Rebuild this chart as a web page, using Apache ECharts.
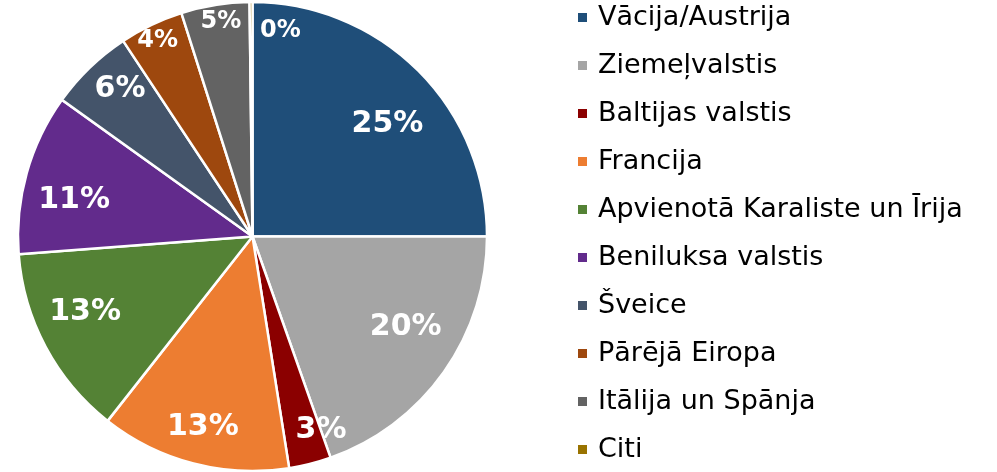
<!DOCTYPE html>
<html><head><meta charset="utf-8">
<script src="https://cdn.jsdelivr.net/npm/echarts@6/dist/echarts.min.js"></script>
<style>html,body{margin:0;padding:0;background:#fff}#c{width:997px;height:472px}</style>
</head><body><div id="c"></div>
<script>
const categories = ["Vācija/Austrija","Ziemeļvalstis","Baltijas valstis","Francija","Apvienotā Karaliste un Īrija","Beniluksa valstis","Šveice","Pārējā Eiropa","Itālija un Spānja","Citi"];
const shares = [25, 19.6, 2.9, 13.1, 13.2, 11.1, 5.8, 4.4, 4.7, 0.2];
const colors = ["#1F4E79","#A5A5A5","#8B0000","#ED7D31","#548235","#622B8C","#44546A","#9E480E","#636363","#997300"];

// label placement tweaks (layout only)
const labelTweak = {
  0:{offset:[4,19]}, 1:{offset:[2,-16]}, 2:{offset:[23,14]}, 3:{offset:[-3,11]},
  4:{offset:[-4,-11]}, 5:{offset:[0,14]}, 6:{offset:[-4,-14]},
  7:{offset:[-15,-29], fontSize:24}, 8:{offset:[-2,-32], fontSize:24}, 9:{offset:[29,-20], fontSize:24}
};

const chart = echarts.init(document.getElementById('c'));
const dataMain = categories.map((n,i)=>({name:n, value:shares[i], itemStyle:{color:colors[i]}}));
const dataLbl = categories.map((n,i)=>({name:n, value:shares[i], label:labelTweak[i]||{}}));
const C = [252.5, 236.5], R = 234.5;
chart.setOption({
  animation:false,
  legend:{
    orient:'vertical', left:576, top:4, height:468, padding:0,
    icon:'rect', itemWidth:11, itemHeight:11, itemGap:21,
    data:categories,
    textStyle:{fontFamily:'DejaVu Sans', fontSize:27, color:'#000', lineHeight:27, padding:[0,0,0,5]},
    selectedMode:false
  },
  series:[
    {type:'pie', center:C, radius:R, startAngle:90, clockwise:true,
     avoidLabelOverlap:false, silent:true,
     itemStyle:{borderColor:'#fff', borderWidth:2.5},
     label:{show:false}, labelLine:{show:false}, emphasis:{disabled:true},
     data:dataMain},
    {type:'pie', center:C, radius:[130, R], startAngle:90, clockwise:true,
     avoidLabelOverlap:false, silent:true,
     itemStyle:{color:'rgba(0,0,0,0)', borderWidth:0},
     label:{show:true, position:'inside', color:'#fff', fontFamily:'DejaVu Sans', fontWeight:'bold', fontSize:30,
       formatter:p=>Math.round(p.percent)+'%'},
     labelLine:{show:false}, emphasis:{disabled:true},
     data:dataLbl}
  ]
});
</script></body></html>
